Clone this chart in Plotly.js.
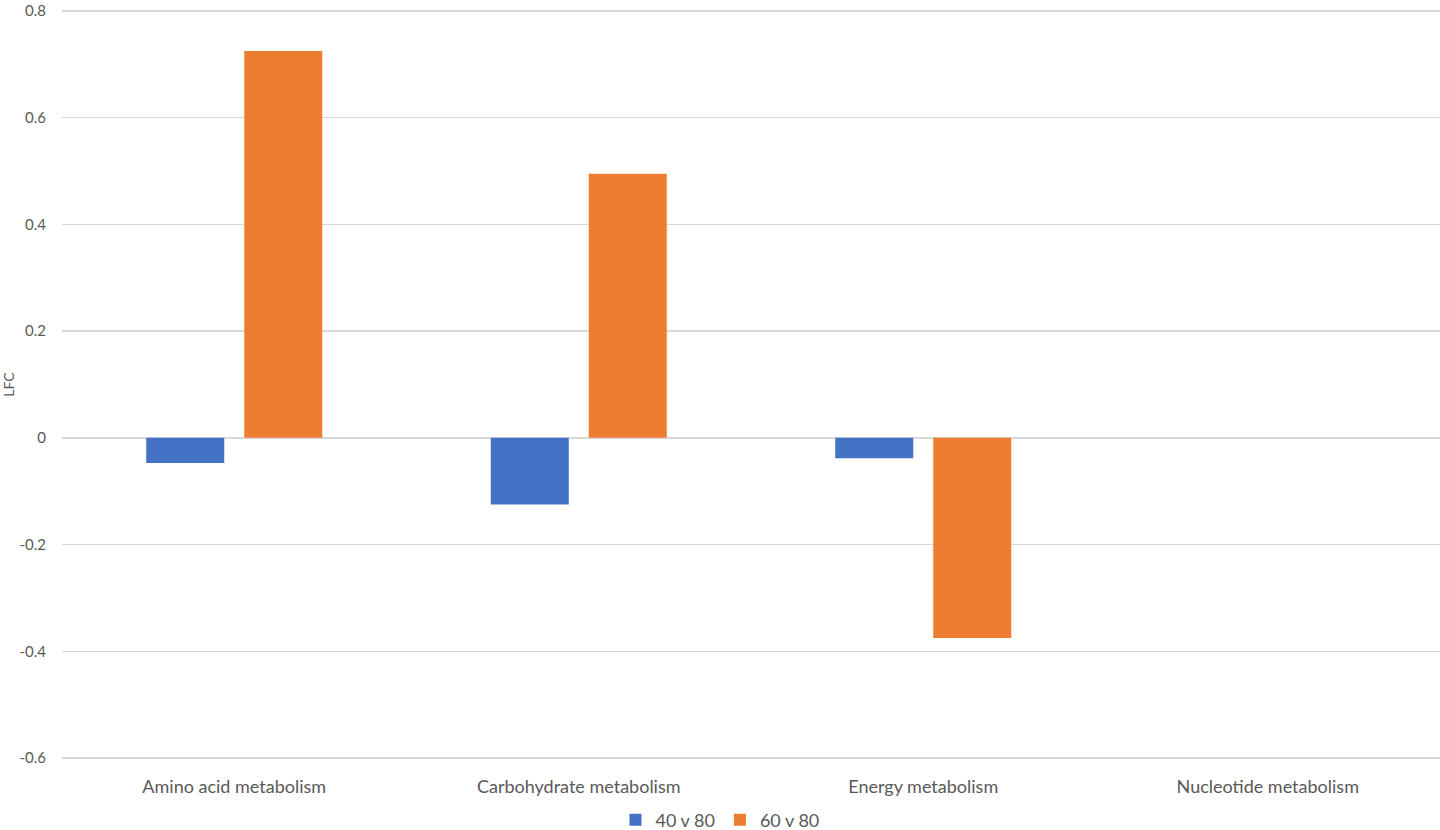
<!DOCTYPE html>
<html>
<head>
<meta charset="utf-8">
<script src="https://cdn.plot.ly/plotly-3.0.1.min.js"></script>
<style>html,body{margin:0;padding:0;background:#fff;}#chart{width:1440px;height:830px;}</style>
</head>
<body>
<div id="chart"></div>
<script>
const categories = ["Amino acid metabolism", "Carbohydrate metabolism", "Energy metabolism", "Nucleotide metabolism"];
const series40v80 = [-0.047, -0.125, -0.038, null];
const series60v80 = [0.725, 0.495, -0.375, null];
const seriesNames = ["40 v 80", "60 v 80"];
const yTickValues = [-0.6, -0.4, -0.2, 0, 0.2, 0.4, 0.6, 0.8];
const yTickLabels = ["-0.6", "-0.4", "-0.2", "0", "0.2", "0.4", "0.6", "0.8"];

const font = "Lato, 'Open Sans', sans-serif";
const traces = [
  {type: "bar", name: seriesNames[0], x: categories, y: series40v80, marker: {color: "#4472C4"}},
  {type: "bar", name: seriesNames[1], x: categories, y: series60v80, marker: {color: "#ED7D31"}}
];
const layout = {
  width: 1440, height: 830,
  margin: {l: 62, r: 0, t: 9, b: 70, autoexpand: false},
  paper_bgcolor: "#fff", plot_bgcolor: "#fff",
  barmode: "group", bargap: 0.431, bargroupgap: 0.204,
  font: {family: font, color: "#595959", size: 15},
  xaxis: {
    showgrid: false, zeroline: false, showline: false, ticks: "",
    automargin: false, ticklabelstandoff: 14,
    tickfont: {size: 18, color: "#595959"}
  },
  yaxis: {
    range: [-0.6037, 0.8037], tickvals: yTickValues, ticktext: yTickLabels,
    showgrid: true, gridcolor: "#d9d9d9", gridwidth: 1.5,
    zeroline: true, zerolinecolor: "#d9d9d9", zerolinewidth: 1.5,
    showline: false, ticks: "", ticklabelstandoff: 15, ticklabeloverflow: "allow",
    automargin: false,
    tickfont: {size: 15, color: "#595959"},
    title: {text: "LFC", font: {size: 14, color: "#595959"}, standoff: 8}
  },
  showlegend: true,
  legend: {orientation: "h", x: 0.5, xanchor: "center", xref: "container", yref: "container", y: 0.012, yanchor: "middle",
    font: {size: 18, color: "#595959"}, itemwidth: 30, traceorder: "normal"}
};
Plotly.newPlot("chart", traces, layout, {displayModeBar: false, staticPlot: true});
</script>
</body>
</html>
